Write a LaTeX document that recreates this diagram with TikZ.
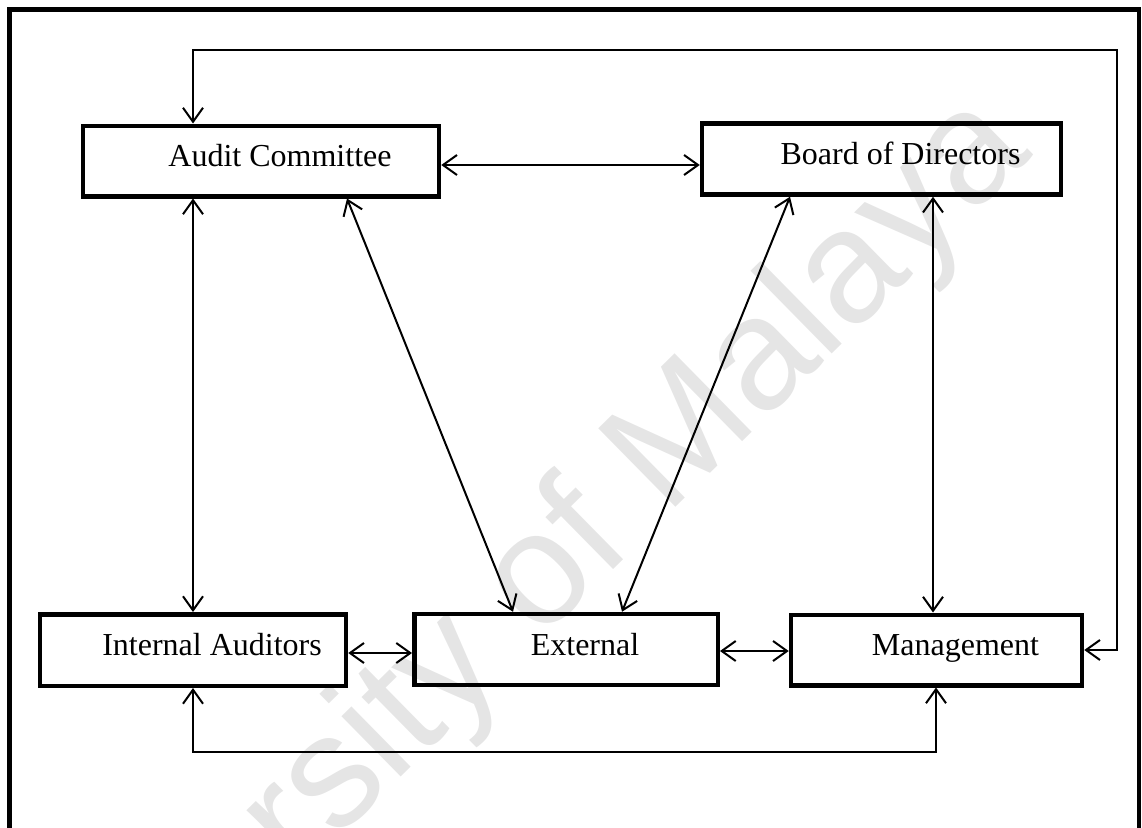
\documentclass[tikz,border=0pt]{standalone}
\usepackage{fontspec}
\setmainfont{Liberation Serif}
\newfontfamily\wmfont{Liberation Sans}
\usetikzlibrary{arrows.meta}
\begin{document}
\begin{tikzpicture}[x=1pt,y=-1pt,
  box/.style={draw, line width=4.5pt, rectangle, inner sep=0pt,
    text height=22pt, text depth=11pt, font=\fontsize{32}{38}\selectfont},
  link/.style={line width=2pt,
    {Straight Barb[length=14pt,width=20pt]}-{Straight Barb[length=14pt,width=20pt]}},
  frame/.style={line width=4.6pt, line join=miter},
  wmark/.style={rotate=44.5, anchor=base west, text=black!10, inner sep=0pt,
    font=\wmfont\fontsize{160}{160}\selectfont}
]
\useasboundingbox (0,0) rectangle (1142,827);
\clip (0,0) rectangle (1142,827);

% watermark
\node[wmark] (wm) at (7,1165) {University of Malaya};

% outer frame
\draw[frame] (9.7,860) -- (9.7,9.7) -- (1139,9.7) -- (1139,860);

% boxes
\node[box, minimum width=356pt, minimum height=70.5pt] (ac) at (261,161) {\hspace*{38pt}Audit Committee};
\node[box, minimum width=359pt, minimum height=71pt] (bd) at (881.5,159) {\hspace*{38pt}Board of Directors};
\node[box, minimum width=306pt, minimum height=71.5pt] (ia) at (193,650) {\hspace*{38pt}Internal Auditors};
\node[box, minimum width=303.5pt, minimum height=71pt] (ex) at (566,649.5) {\hspace*{38pt}External};
\node[box, minimum width=291pt, minimum height=70.5pt] (mg) at (936.5,650) {\hspace*{38pt}Management};

% helper coordinates
\coordinate (tl) at (193,50);
\coordinate (tr) at (1117,50);
\coordinate (bl) at (193,752);
\coordinate (br) at (936,752);
\coordinate (hy) at (0,165);
\coordinate (d1) at (347,0);
\coordinate (d2) at (513,0);
\coordinate (d3) at (790,0);
\coordinate (d4) at (622,0);
\coordinate (v1) at (933,0);
\coordinate (h1) at (0,653);
\coordinate (h2) at (0,651);

% connectors
\draw[link] (mg.east) -- (mg.east -| tr) -- (tr) -- (tl) -- (tl |- ac.north);
\draw[link] (ac.east |- hy) -- (bd.west |- hy);
\draw[link] (ac.south -| ia.north) -- (ia.north);
\draw[link] (ac.south -| d1) -- (ex.north -| d2);
\draw[link] (bd.south -| d3) -- (ex.north -| d4);
\draw[link] (bd.south -| v1) -- (mg.north -| v1);
\draw[link] (ia.east |- h1) -- (ex.west |- h1);
\draw[link] (ex.east |- h2) -- (mg.west |- h2);
\draw[link] (ia.south) -- (bl) -- (br) -- (mg.south -| br);
\end{tikzpicture}
\end{document}
